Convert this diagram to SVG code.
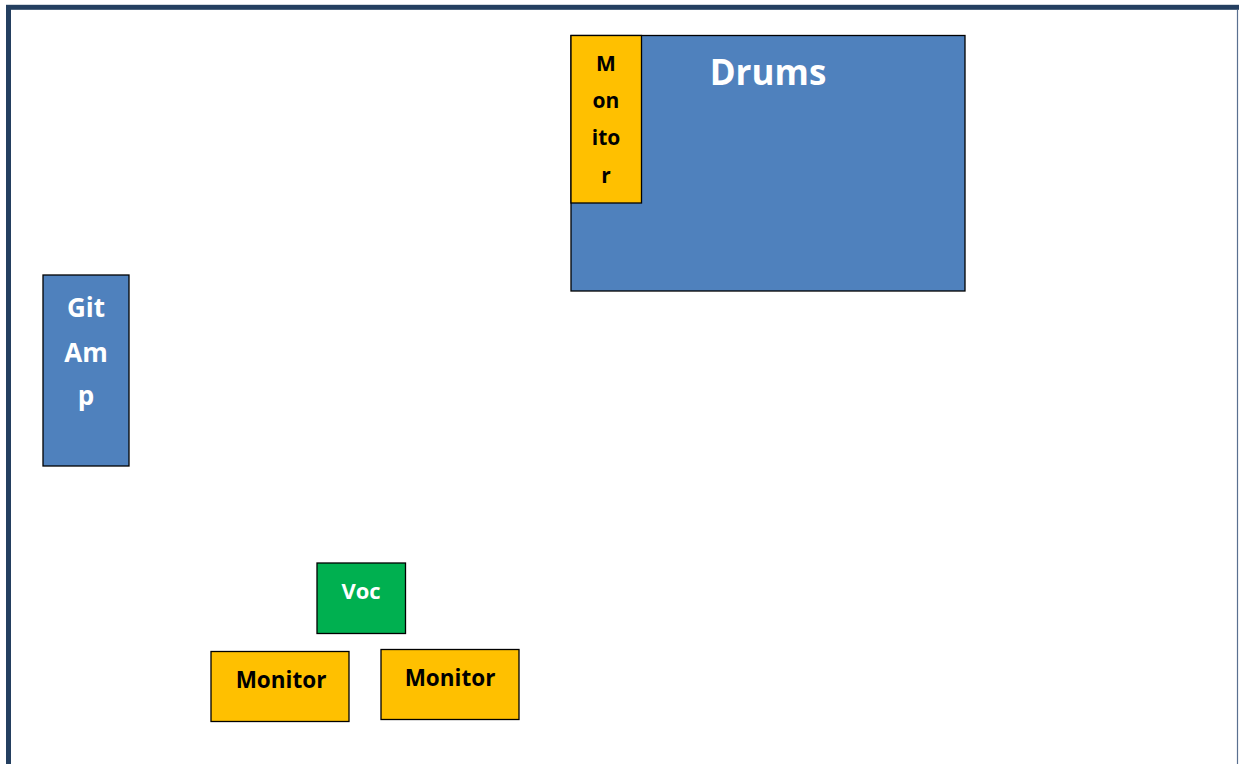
<svg xmlns="http://www.w3.org/2000/svg" width="1239" height="764" viewBox="0 0 1239 764">
<style>
.box{stroke:#000;stroke-width:1.3}
.blue{fill:#4F81BD}
.yel{fill:#FFC000}
.grn{fill:#00B050}
.t{font-family:"Open Sans","Liberation Sans",sans-serif;font-weight:bold;text-anchor:middle}
.w{fill:#fff}
.k{fill:#000}
</style>
<rect width="1239" height="764" fill="#fff"/>
<rect x="8.5" y="7.3" width="1236" height="800" fill="none" stroke="#243F60" stroke-width="5"/>
<line x1="1237.5" y1="10" x2="1237.5" y2="764" stroke="#5A7090" stroke-width="1.2"/>
<g id="drums">
<rect class="box blue" x="571" y="35.5" width="394" height="255.5"/>
<text class="t w" x="768" y="85" font-size="35">Drums</text>
</g>
<g id="drum-monitor">
<rect class="box yel" x="571" y="35.5" width="70.5" height="167.5"/>
<text class="t k" font-size="21"><tspan x="606" y="71">M</tspan><tspan x="606" y="108">on</tspan><tspan x="606" y="145">ito</tspan><tspan x="606" y="183">r</tspan></text>
</g>
<g id="git-amp">
<rect class="box blue" x="43" y="275" width="86" height="191"/>
<text class="t w" font-size="26"><tspan x="86" y="317">Git</tspan><tspan x="86" y="362">Am</tspan><tspan x="86" y="405">p</tspan></text>
</g>
<g id="voc">
<rect class="box grn" x="317" y="563" width="88.5" height="70.5"/>
<text class="t w" x="361" y="599" font-size="22">Voc</text>
</g>
<g id="monitor-left">
<rect class="box yel" x="211" y="651.5" width="138" height="70"/>
<text class="t k" x="281" y="688" font-size="22.5">Monitor</text>
</g>
<g id="monitor-right">
<rect class="box yel" x="381" y="649.5" width="138" height="70"/>
<text class="t k" x="450" y="686" font-size="22.5">Monitor</text>
</g>
<g id="connectors"/>
</svg>
